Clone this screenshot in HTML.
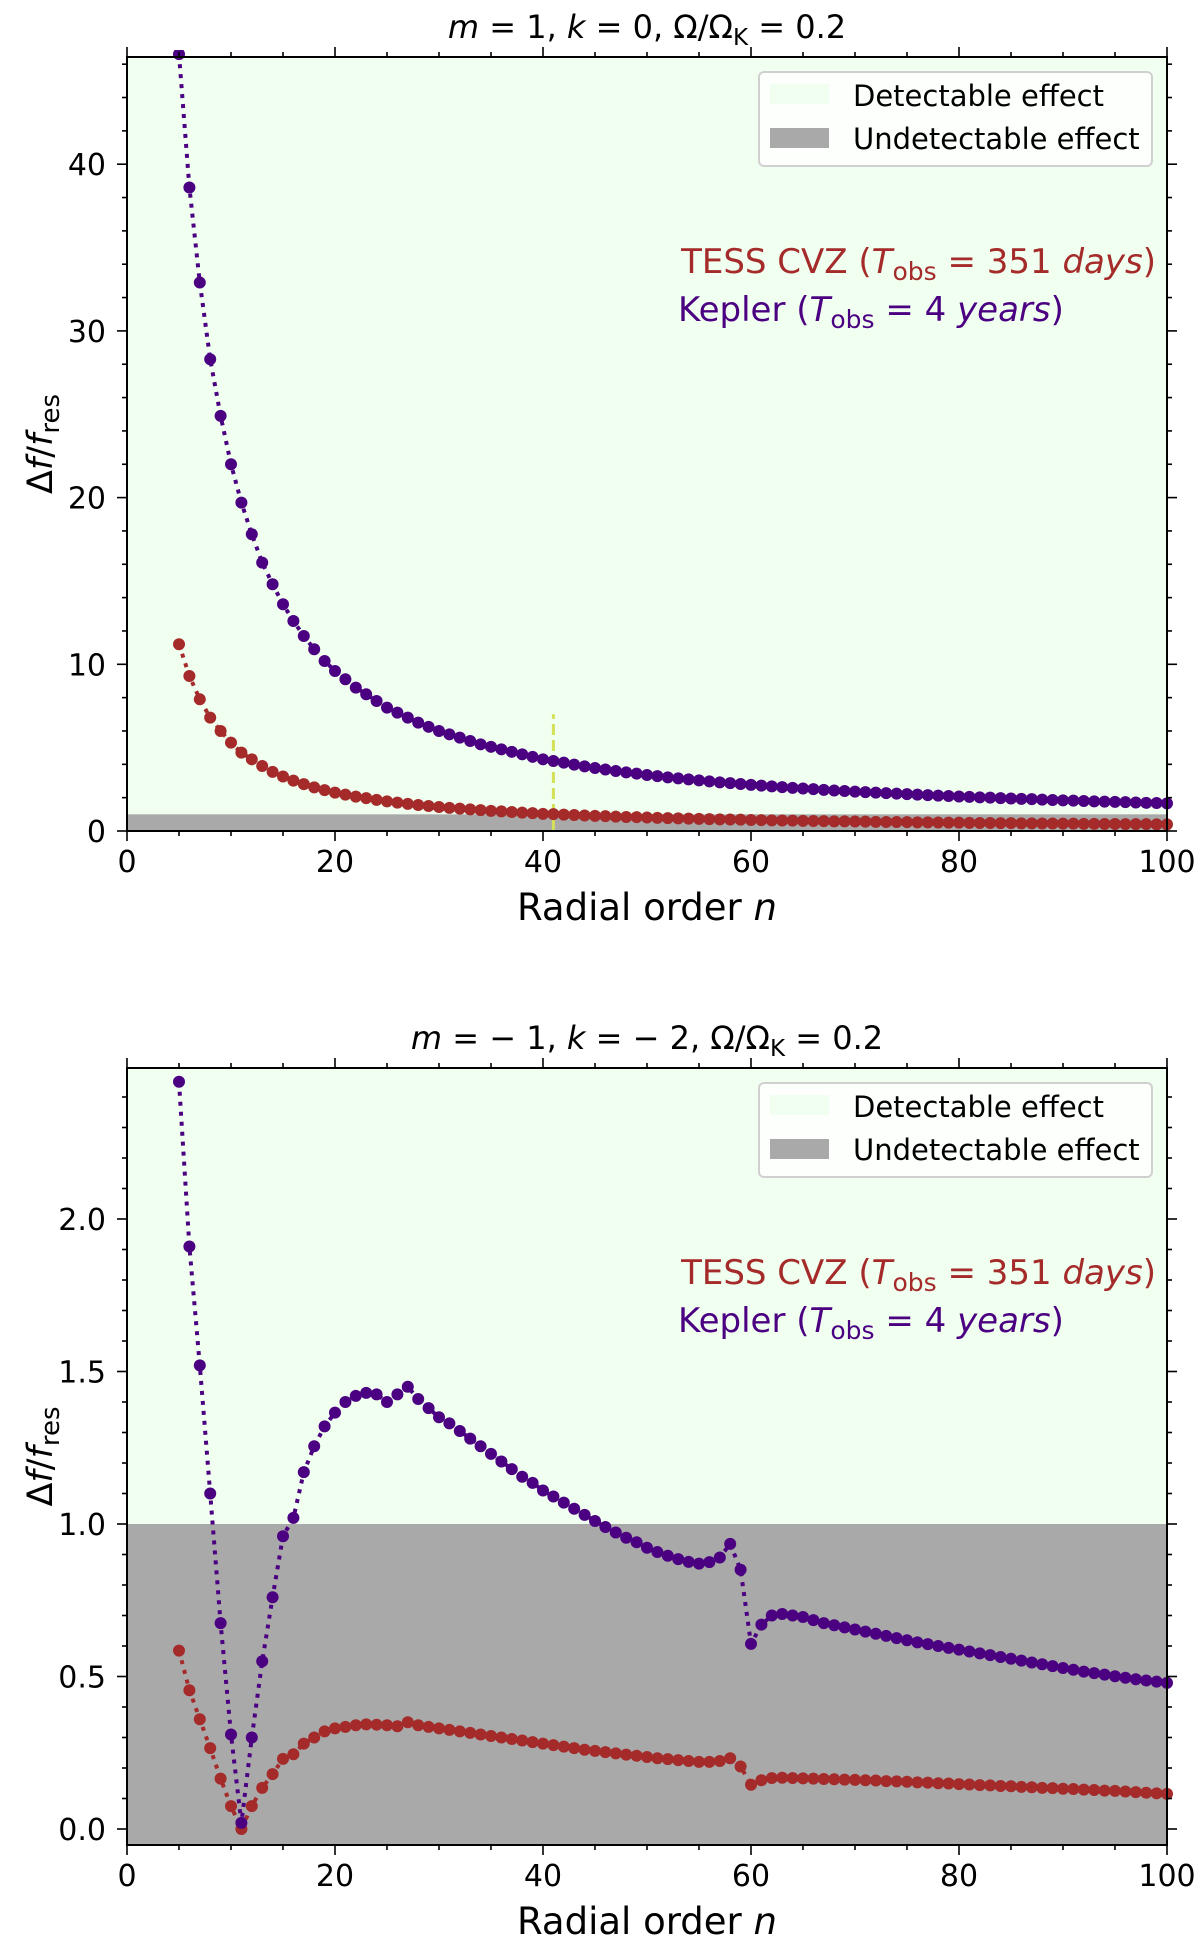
<!DOCTYPE html>
<html><head><meta charset="utf-8"><style>
body{margin:0;background:#fff}
svg{display:block;font-family:"DejaVu Sans","Liberation Sans",sans-serif}
</style></head><body>
<svg id="fig" width="1200" height="1953" viewBox="0 0 1200 1953" xmlns="http://www.w3.org/2000/svg"></svg>
<script>
const nStart = 5;
const topKepler = [46.6,38.6,32.9,28.3,24.9,22.0,19.7,17.8,16.1,14.8,13.6,12.6,11.7,10.9,10.2,9.6,9.1,8.6,8.2,7.8,7.4,7.1,6.8,6.5,6.25,6.0,5.8,5.6,5.4,5.2,5.05,4.9,4.75,4.6,4.45,4.3,4.2,4.1,3.98,3.88,3.78,3.69,3.6,3.52,3.44,3.36,3.29,3.22,3.16,3.1,3.04,2.98,2.92,2.87,2.82,2.77,2.72,2.68,2.63,2.59,2.55,2.51,2.47,2.43,2.4,2.36,2.33,2.3,2.27,2.24,2.21,2.18,2.15,2.12,2.1,2.07,2.05,2.02,2.0,1.97,1.95,1.93,1.91,1.88,1.86,1.84,1.82,1.8,1.78,1.76,1.75,1.73,1.71,1.69,1.68,1.66];
const topTess = [11.2,9.3,7.9,6.8,6.0,5.3,4.7,4.3,3.9,3.55,3.27,3.02,2.81,2.62,2.45,2.3,2.18,2.06,1.97,1.87,1.78,1.7,1.63,1.56,1.5,1.44,1.39,1.34,1.3,1.25,1.21,1.18,1.14,1.1,1.07,1.03,1.01,0.98,0.96,0.93,0.91,0.89,0.86,0.84,0.83,0.81,0.79,0.77,0.76,0.74,0.73,0.71,0.7,0.69,0.68,0.66,0.65,0.64,0.63,0.62,0.61,0.6,0.59,0.58,0.58,0.57,0.56,0.55,0.54,0.54,0.53,0.52,0.52,0.51,0.5,0.5,0.49,0.48,0.48,0.47,0.47,0.46,0.46,0.45,0.45,0.44,0.44,0.43,0.43,0.42,0.42,0.41,0.41,0.41,0.4,0.4];
const botKepler = [2.45,1.91,1.52,1.10,0.675,0.31,0.02,0.30,0.55,0.76,0.96,1.02,1.17,1.255,1.32,1.365,1.40,1.42,1.43,1.425,1.40,1.425,1.45,1.41,1.38,1.35,1.33,1.305,1.28,1.255,1.23,1.205,1.18,1.155,1.135,1.11,1.09,1.07,1.05,1.03,1.01,0.99,0.972,0.955,0.94,0.922,0.908,0.896,0.885,0.876,0.87,0.875,0.89,0.935,0.85,0.607,0.67,0.70,0.705,0.70,0.695,0.685,0.675,0.668,0.661,0.654,0.647,0.640,0.633,0.626,0.619,0.612,0.606,0.600,0.594,0.588,0.582,0.576,0.570,0.564,0.558,0.552,0.546,0.540,0.534,0.528,0.522,0.516,0.511,0.506,0.501,0.496,0.491,0.487,0.483,0.479];
const botTess = [0.585,0.455,0.36,0.265,0.165,0.075,0.0,0.075,0.135,0.18,0.23,0.245,0.28,0.30,0.32,0.33,0.335,0.34,0.343,0.342,0.34,0.337,0.35,0.34,0.335,0.33,0.325,0.32,0.315,0.31,0.305,0.30,0.295,0.29,0.285,0.28,0.275,0.27,0.265,0.26,0.256,0.252,0.248,0.244,0.24,0.236,0.232,0.229,0.226,0.223,0.22,0.22,0.223,0.232,0.205,0.145,0.16,0.167,0.168,0.167,0.166,0.165,0.164,0.163,0.162,0.161,0.160,0.159,0.157,0.156,0.155,0.153,0.152,0.150,0.149,0.147,0.146,0.144,0.143,0.141,0.140,0.138,0.137,0.135,0.134,0.132,0.131,0.129,0.128,0.126,0.125,0.123,0.121,0.119,0.117,0.115];
const xTicks = [0,20,40,60,80,100];
const topYTicks = [0,10,20,30,40];
const botYTicks = ["0.0","0.5","1.0","1.5","2.0"];
const threshold = 1.0;
const markerN = 41;
const markerTop = 7;

const NS = "http://www.w3.org/2000/svg";
const svg = document.getElementById('fig');
function mk(tag, attrs, parent){const e=document.createElementNS(NS,tag);for(const k in attrs)e.setAttribute(k,attrs[k]);(parent||svg).appendChild(e);return e;}

function panel(cfg){
  const g = mk('g',{});
  
  
  const L=127,R=1167,T=cfg.top,B=cfg.bottom;
  const xs = v => L + (v-0)/(100-0)*(R-L);
  const ys = v => cfg.y0px - (v)*(cfg.pxPerUnit);
  const bg = mk('rect',{x:L,y:T,width:R-L,height:B-T,fill:'#f0fff0'},g);
  
  
  const gy = Math.max(T, ys(threshold));
  const gr = mk('rect',{x:L,y:gy,width:R-L,height:B-gy,fill:'#a9a9a9'},g);
  
  
  if(cfg.marker){
    const ml = mk('line',{x1:xs(markerN),x2:xs(markerN),y1:ys(0),y2:ys(markerTop),stroke:'#d4e157','stroke-width':3,'stroke-dasharray':'11,5'},g);
    
    
  }
  const clip = mk('clipPath',{id:'clip'+cfg.id},g);
  mk('rect',{x:L,y:T-7,width:R-L+7,height:B-T+7},clip);
  [[cfg.tess,'#a52a2a','tess-series'],[cfg.kep,'#4b0082','kepler-series']].forEach(([arr,col,nm])=>{
    const sg = mk('g',{'clip-path':'url(#clip'+cfg.id+')'},g);
    
    
    const pts = arr.map((v,i)=>xs(nStart+i).toFixed(1)+','+ys(v).toFixed(1)).join(' ');
    const pl = mk('polyline',{points:pts,fill:'none',stroke:col,'stroke-width':4,'stroke-dasharray':'4,6'},sg);
    
    
    arr.forEach((v,i)=>{
      const c = mk('circle',{cx:xs(nStart+i),cy:ys(v),r:6,fill:col},sg);
      
      
    });
  });
  const sp = mk('rect',{x:L,y:T,width:R-L,height:B-T,fill:'none',stroke:'#000','stroke-width':2},g);
  
  
  for(let v=0; v<=100; v+=5){
    const major = v%20===0, len = major?10:5, x=xs(v);
    mk('line',{x1:x,x2:x,y1:B,y2:B+len,stroke:'#000','stroke-width':1.6},g);
    mk('line',{x1:x,x2:x,y1:T,y2:T-len,stroke:'#000','stroke-width':1.6},g);
  }
  xTicks.forEach(v=>{
    const t = mk('text',{x:xs(v),y:B+41,'text-anchor':'middle','font-size':30,fill:'#000'},g);
    t.textContent=v;
    
    
  });
  const ymax = (cfg.y0px - T)/cfg.pxPerUnit, ymin=(cfg.y0px-B)/cfg.pxPerUnit;
  for(let k=Math.ceil(ymin/cfg.minor-1e-9); k*cfg.minor<=ymax+1e-9; k++){
    const v=k*cfg.minor, major = Math.abs(v/cfg.major-Math.round(v/cfg.major))<1e-6, len=major?10:5, y=ys(v);
    mk('line',{x1:L,x2:L-len,y1:y,y2:y,stroke:'#000','stroke-width':1.6},g);
    mk('line',{x1:R,x2:R+len,y1:y,y2:y,stroke:'#000','stroke-width':1.6},g);
  }
  cfg.yticks.forEach(v=>{
    const t = mk('text',{x:106,y:ys(parseFloat(v))+11,'text-anchor':'end','font-size':30,fill:'#000'},g);
    t.textContent=v;
    
    
  });
  const xl = mk('text',{x:647,y:B+89,'text-anchor':'middle','font-size':37,fill:'#000'},g);
  xl.innerHTML='Radial order <tspan font-style="italic">n</tspan>';
  
  
  const cy=(T+B)/2;
  const yl = mk('text',{x:0,y:0,'text-anchor':'middle','font-size':35,fill:'#000',transform:'translate(52,'+cy+') rotate(-90)'},g);
  yl.innerHTML='Δ<tspan font-style="italic">f</tspan>/<tspan font-style="italic">f</tspan><tspan font-size="26" dy="7">res</tspan>';
  
  
  const ti = mk('text',{x:647,y:T-19,'text-anchor':'middle','font-size':32,fill:'#000'},g);
  ti.innerHTML=cfg.title;
  
  
  const lg = mk('g',{transform:'translate(0,'+(T+15)+')'},g);
  
  
  mk('rect',{x:759,y:0,width:393,height:94,rx:5,fill:'#fff','fill-opacity':0.8,stroke:'#d0d0d0','stroke-width':2},lg);
  mk('rect',{x:770,y:12,width:59,height:20,fill:'#f0fff0'},lg);
  mk('rect',{x:770,y:56,width:59,height:20,fill:'#a9a9a9'},lg);
  const l1=mk('text',{x:853,y:34,'font-size':29,fill:'#000'},lg); l1.textContent='Detectable effect';
  
  
  const l2=mk('text',{x:853,y:77,'font-size':29,fill:'#000'},lg); l2.textContent='Undetectable effect';
  
  
  const a1 = mk('text',{x:1156,y:T+216,'text-anchor':'end','font-size':34,fill:'#a52a2a'},g);
  a1.innerHTML='TESS CVZ (<tspan font-style="italic">T</tspan><tspan font-size="25" dy="7">obs</tspan><tspan dy="-7"> = 351 </tspan><tspan font-style="italic">days</tspan>)';
  
  
  const a2 = mk('text',{x:678,y:T+264,'font-size':34,fill:'#4b0082'},g);
  a2.innerHTML='Kepler (<tspan font-style="italic">T</tspan><tspan font-size="25" dy="7">obs</tspan><tspan dy="-7"> = 4 </tspan><tspan font-style="italic">years</tspan>)';
  
  
}
panel({id:1,name:'top-panel',top:57,bottom:831,y0px:831,pxPerUnit:16.67,major:10,minor:2,yticks:topYTicks,
  kep:topKepler,tess:topTess,marker:true,
  title:'<tspan font-style="italic">m</tspan> = 1, <tspan font-style="italic">k</tspan> = 0, Ω/Ω<tspan font-size="23" dy="7">K</tspan><tspan dy="-7"> = 0.2</tspan>'});
panel({id:2,name:'bottom-panel',top:1068,bottom:1845,y0px:1829,pxPerUnit:305,major:0.5,minor:0.1,yticks:botYTicks,
  kep:botKepler,tess:botTess,marker:false,
  title:'<tspan font-style="italic">m</tspan> = − 1, <tspan font-style="italic">k</tspan> = − 2, Ω/Ω<tspan font-size="23" dy="7">K</tspan><tspan dy="-7"> = 0.2</tspan>'});
</script>
</body></html>
